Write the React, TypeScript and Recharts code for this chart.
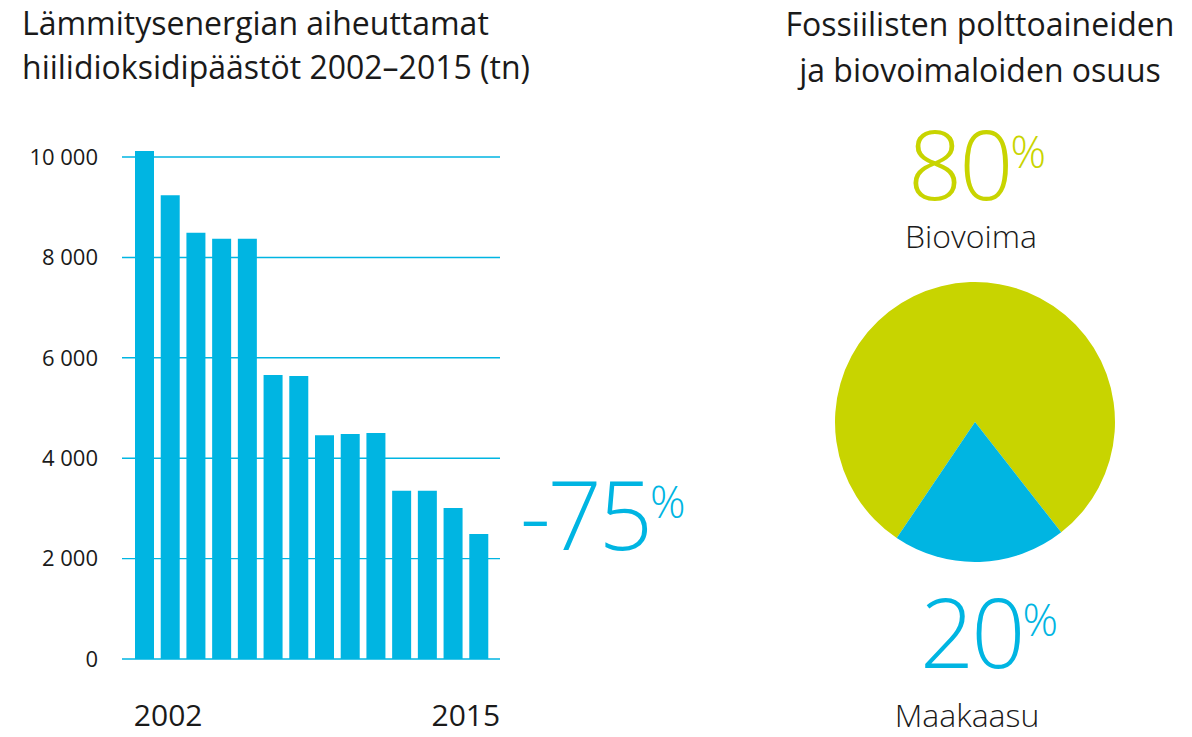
import React from "react";
import {
  BarChart,
  Bar,
  XAxis,
  YAxis,
  CartesianGrid,
  PieChart,
  Pie,
  Cell,
} from "recharts";

// lämmitysenergian CO2-päästöt (tn)
const years = [2002, 2003, 2004, 2005, 2006, 2007, 2008, 2009, 2010, 2011, 2012, 2013, 2014, 2015];
const emissions = [10120, 9240, 8490, 8370, 8370, 5660, 5640, 4460, 4480, 4500, 3350, 3350, 3010, 2490];
const yTicks = [0, 2000, 4000, 6000, 8000, 10000];

// polttoaineiden osuudet (%)
const shareNames = ["Biovoima", "Maakaasu"];
const shareValues = [80, 20];

const CYAN = "#00b5e2";
const GREEN = "#c8d400";
const INK = "#1a1a1a";
const FONT = "'Open Sans', 'Noto Sans', sans-serif";

const barData = years.map((y, i) => ({ year: String(y), value: emissions[i] }));
const pieData = shareNames.map((n, i) => ({ name: n, value: shareValues[i] }));
const change = Math.round((emissions[emissions.length - 1] / emissions[0] - 1) * 100);

const formatThousands = (v: number) => String(v).replace(/\B(?=(\d{3})+(?!\d))/g, " ");

const YearTick = (props: any) => {
  const { x, y, payload, index } = props;
  const first = index === 0;
  const last = index === barData.length - 1;
  if (!first && !last) return null;
  return (
    <text
      x={first ? x - 11 : x + 21}
      y={y + 67}
      textAnchor={first ? "start" : "end"}
      fontSize={30}
      fontFamily={FONT}
      fill={INK}
    >
      {payload.value}
    </text>
  );
};

export default function App() {
  return (
    <div
      style={{
        position: "absolute",
        left: 0,
        top: 0,
        width: 1192,
        height: 737,
        background: "#fff",
        fontFamily: FONT,
      }}
    >
      <div style={{ position: "absolute", left: 0, top: 0 }}>
        <BarChart
          width={520}
          height={737}
          data={barData}
          margin={{ top: 147, right: 20, bottom: 0, left: 0 }}
        >
          <CartesianGrid
            vertical={false}
            horizontalValues={yTicks}
            stroke={CYAN}
            strokeWidth={1.4}
          />
          <XAxis
            dataKey="year"
            interval={0}
            axisLine={false}
            tickLine={false}
            tickSize={0}
            tickMargin={0}
            height={78}
            padding={{ left: 10, right: 8 }}
            tick={<YearTick />}
          />
          <YAxis
            domain={[0, 10200]}
            allowDataOverflow
            ticks={yTicks}
            width={122}
            axisLine={false}
            tickLine={false}
            tickSize={0}
            tickMargin={24}
            tickFormatter={formatThousands}
            tick={{ fontSize: 22, fill: INK, fontFamily: FONT }}
          />
          <Bar dataKey="value" fill={CYAN} barSize={19} isAnimationActive={false} />
        </BarChart>
      </div>

      <div style={{ position: "absolute", left: 825, top: 272 }}>
        <PieChart width={300} height={300}>
          <Pie
            data={pieData}
            dataKey="value"
            cx="50%"
            cy="50%"
            outerRadius={140}
            startAngle={-52}
            endAngle={308}
            stroke="none"
            isAnimationActive={false}
          >
            <Cell fill={GREEN} />
            <Cell fill={CYAN} />
          </Pie>
        </PieChart>
      </div>

      <svg
        width={1192}
        height={737}
        style={{ position: "absolute", left: 0, top: 0, pointerEvents: "none" }}
        fontFamily={FONT}
      >
        <text x={22} y={35} fontSize={32} fontWeight={500} fill={INK}>
          Lämmitysenergian aiheuttamat
        </text>
        <text x={22} y={79} fontSize={32} fontWeight={500} fill={INK}>
          hiilidioksidipäästöt 2002–2015 (tn)
        </text>

        <text x={980} y={36} fontSize={32} fontWeight={500} fill={INK} textAnchor="middle">
          Fossiilisten polttoaineiden
        </text>
        <text x={980} y={82} fontSize={32} fontWeight={500} fill={INK} textAnchor="middle">
          ja biovoimaloiden osuus
        </text>

        <text x={520} y={550} fontSize={95} fontWeight={300} fill={CYAN} letterSpacing={-3}>
          {change}
          <tspan fontSize={44} dy={-32} letterSpacing={0}>%</tspan>
        </text>

        <text x={908} y={200} fontSize={95} fontWeight={300} fill={GREEN} letterSpacing={-3}>
          {shareValues[0]}
          <tspan fontSize={44} dy={-32} letterSpacing={0}>%</tspan>
        </text>
        <text x={971} y={248} fontSize={32} fontWeight={300} fill={INK} textAnchor="middle">
          {shareNames[0]}
        </text>

        <text x={920} y={668} fontSize={95} fontWeight={300} fill={CYAN} letterSpacing={-3}>
          {shareValues[1]}
          <tspan fontSize={44} dy={-32} letterSpacing={0}>%</tspan>
        </text>
        <text x={967} y={727} fontSize={32} fontWeight={300} fill={INK} textAnchor="middle">
          {shareNames[1]}
        </text>
      </svg>
    </div>
  );
}
